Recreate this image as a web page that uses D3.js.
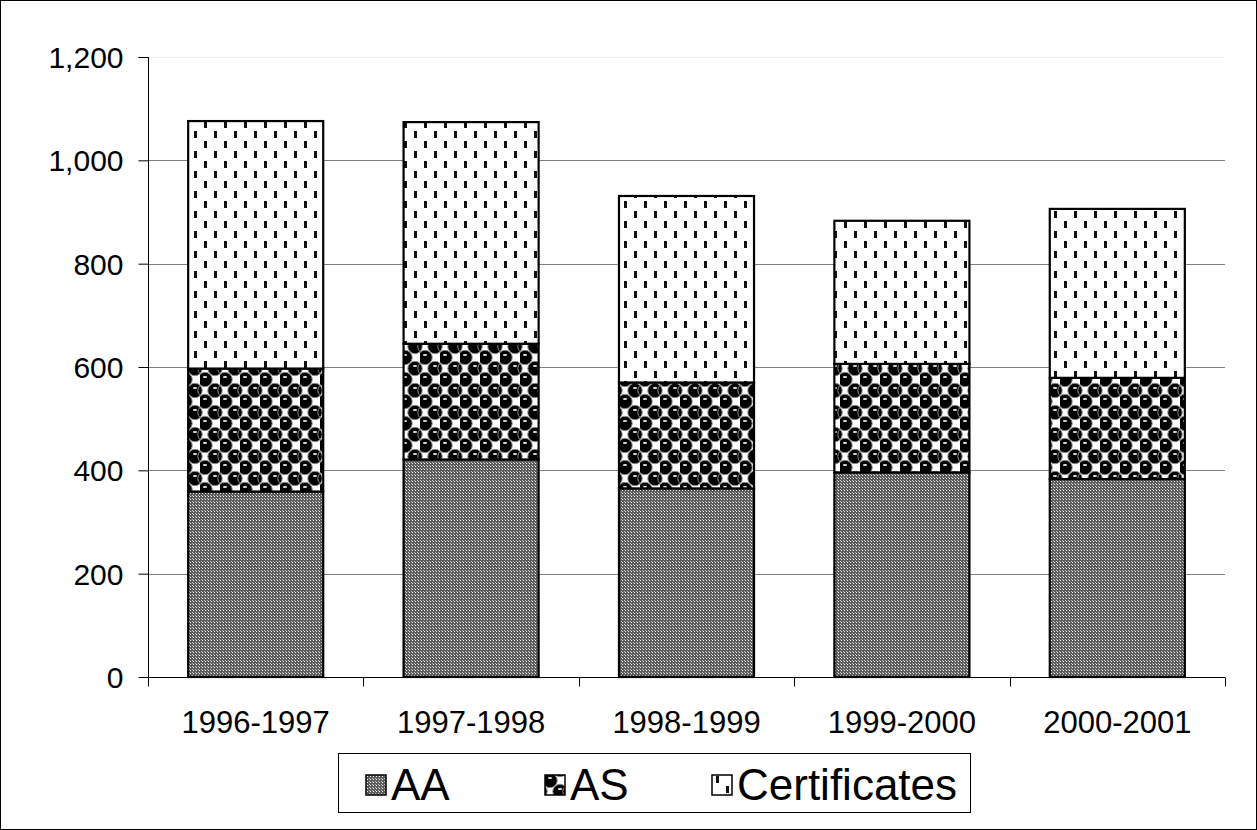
<!DOCTYPE html>
<html><head><meta charset="utf-8">
<script src="https://cdn.jsdelivr.net/npm/d3@7"></script>
<style>body{margin:0;background:#fff}svg{display:block}</style>
</head><body>
<script>
const categories = ["1996-1997","1997-1998","1998-1999","1999-2000","2000-2001"];
const seriesNames = ["AA","AS","Certificates"];
const AA = [359, 421, 365, 396, 383];
const AS = [238, 224, 205, 210, 196];
const Certificates = [479, 429, 361, 277, 327];
const yTicks = [0,200,400,600,800,1000,1200];

const W = 1257, H = 830;
const FONT = "Liberation Sans, Arial, sans-serif";
const svg = d3.select("body").append("svg").attr("width", W).attr("height", H);
const defs = svg.append("defs");

// AA: fine gray dither
const pAA = defs.append("pattern").attr("id","pAA").attr("patternUnits","userSpaceOnUse").attr("width",3).attr("height",3);
pAA.append("rect").attr("width",3).attr("height",3).attr("fill","#5c5c5c");
pAA.append("rect").attr("x",1).attr("y",1).attr("width",1).attr("height",1).attr("fill","#f0f0f0");
pAA.append("rect").attr("x",0).attr("y",0).attr("width",1).attr("height",1).attr("fill","#bcbcbc");

// AS: balls
const pAS = defs.append("pattern").attr("id","pAS").attr("patternUnits","userSpaceOnUse").attr("width",20).attr("height",22);
pAS.append("rect").attr("width",20).attr("height",22).attr("fill","#fff");
[[5,5.5],[15,16.5],[-5,16.5],[25,16.5],[5,27.5],[15,-5.5],[-5,-5.5],[25,-5.5]].forEach(([cx,cy])=>{
  pAS.append("circle").attr("cx",cx).attr("cy",cy).attr("r",7.2).attr("fill","#000").attr("stroke","#888").attr("stroke-width",1);
  pAS.append("ellipse").attr("cx",cx).attr("cy",cy-2.5).attr("rx",2.2).attr("ry",1).attr("fill","#e0e0e0");
});

// Certificates: dashes
const pC = defs.append("pattern").attr("id","pC").attr("patternUnits","userSpaceOnUse").attr("width",20).attr("height",20);
pC.append("rect").attr("width",20).attr("height",20).attr("fill","#fff");
pC.append("rect").attr("x",4).attr("y",1).attr("width",3).attr("height",7).attr("fill","#111");
pC.append("rect").attr("x",14).attr("y",11).attr("width",3).attr("height",7).attr("fill","#111");

const fills = {"AA":"url(#pAA)","AS":"url(#pAS)","Certificates":"url(#pC)"};

// outer border
svg.append("rect").attr("x",0.5).attr("y",0.5).attr("width",W-1).attr("height",H-1).attr("fill","none").attr("stroke","#000");

const x = d3.scaleBand().domain(categories).range([148,1225]).paddingInner(0.373).paddingOuter(0.1865);
const y = d3.scaleLinear().domain([0,1200]).range([677,57]);

// gridlines
svg.append("g").selectAll("line").data(yTicks.filter(t=>t>0)).join("line")
  .attr("x1",148).attr("x2",1225).attr("y1",d=>Math.round(y(d))+0.5).attr("y2",d=>Math.round(y(d))+0.5)
  .attr("stroke",d=>d===1200?"#eeeeee":"#808080").attr("stroke-width",1);

// stacked data
const table = categories.map((c,i)=>({cat:c, AA:AA[i], AS:AS[i], Certificates:Certificates[i]}));
const stack = d3.stack().keys(seriesNames)(table);

svg.append("g").selectAll("g").data(stack).join("g")
  .attr("fill",d=>fills[d.key])
  .selectAll("rect").data(d=>d).join("rect")
  .attr("x",d=>x(d.data.cat)).attr("width",x.bandwidth())
  .attr("y",d=>y(d[1])).attr("height",d=>y(d[0])-y(d[1]))
  .attr("stroke","#000").attr("stroke-width",2.2);

// y axis
const yAxis = d3.axisLeft(y).tickValues(yTicks).tickFormat(d3.format(",")).tickSize(10).tickPadding(15);
const gy = svg.append("g").attr("transform","translate(148.5,0)").call(yAxis);
gy.select(".domain").attr("stroke","#000").attr("d","M-10,57.5H0V686");
gy.selectAll(".tick line").attr("stroke","#000");
gy.selectAll("text").attr("font-family",FONT).attr("font-size",30).attr("fill","#000").attr("dy","0.35em");

// x axis
const gx = svg.append("g").attr("transform","translate(0,677.5)");
gx.append("line").attr("x1",148).attr("x2",1225).attr("stroke","#000");
const step = x.step();
const bounds = d3.range(categories.length+1).map(i=>148 + i*step);
gx.selectAll("line.t").data(bounds).join("line").attr("class","t")
  .attr("x1",d=>Math.round(d)+0.5).attr("x2",d=>Math.round(d)+0.5).attr("y1",0).attr("y2",9).attr("stroke","#000");
gx.selectAll("text").data(categories).join("text")
  .attr("x",d=>x(d)+x.bandwidth()/2).attr("y",55)
  .attr("text-anchor","middle").attr("font-family",FONT).attr("font-size",31).attr("fill","#000")
  .text(d=>d);

// legend
const lg = svg.append("g");
lg.append("rect").attr("x",338.5).attr("y",753.5).attr("width",632).attr("height",59).attr("fill","#fff").attr("stroke","#000");
const legX = [366, 545, 712];
const legItems = lg.selectAll("g").data(seriesNames).join("g").attr("transform",(d,i)=>`translate(${legX[i]},775)`);
legItems.append("rect").attr("width",20).attr("height",20).attr("fill",d=>fills[d]).attr("stroke","#000").attr("stroke-width",1.5);
legItems.append("text").attr("x",25).attr("y",25).attr("font-family",FONT).attr("font-size",44).attr("fill","#000").text(d=>d);
</script>
</body></html>
